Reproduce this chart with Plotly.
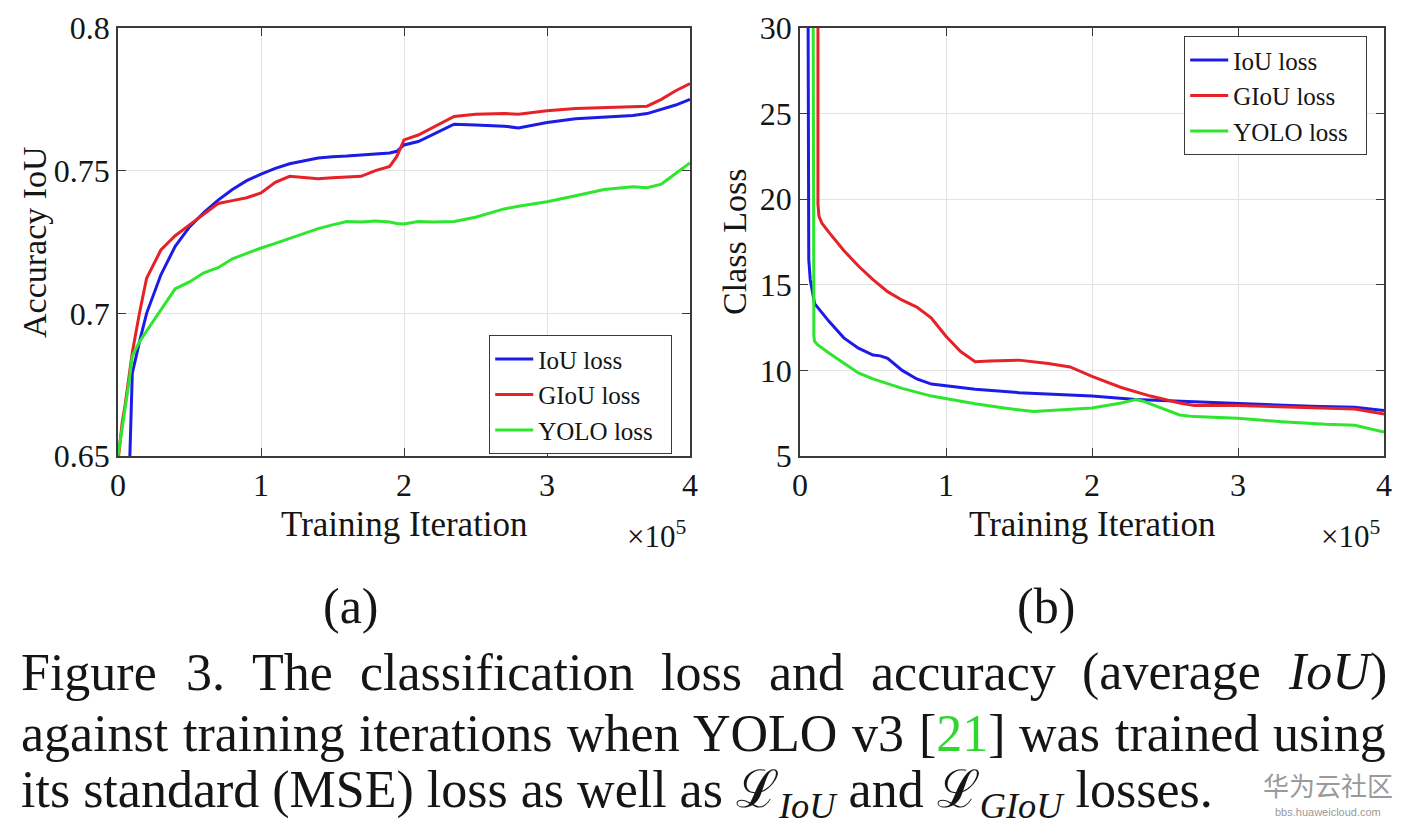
import re
import plotly.graph_objects as go

# ---- data (iterations in units of 1e5) ----
iter_a = [0.0, 0.03, 0.05, 0.08, 0.1, 0.15, 0.2, 0.3, 0.4, 0.5, 0.6, 0.7, 0.8, 0.9, 1.0, 1.1, 1.2, 1.4, 1.5, 1.6,
          1.7, 1.8, 1.9, 1.95, 2.0, 2.1, 2.2, 2.35, 2.5, 2.7, 2.8, 2.9, 3.0, 3.2, 3.4, 3.6, 3.7, 3.8, 3.9, 4.0]
acc_iou = [None, None, None, 0.645, 0.679, 0.690, 0.700, 0.7135, 0.7235, 0.7303, 0.7353, 0.7397, 0.7434, 0.7465,
           0.7488, 0.7508, 0.7524, 0.7544, 0.7549, 0.7551, 0.7555, 0.756, 0.7562, 0.7568, 0.759, 0.7602, 0.7627,
           0.7663, 0.766, 0.7656, 0.765, 0.7659, 0.7669, 0.7682, 0.7688, 0.7693, 0.770, 0.7715, 0.773, 0.775]
acc_giou = [0.648, 0.662, 0.668, 0.678, 0.6863, 0.700, 0.7123, 0.7222, 0.7272, 0.731, 0.7347, 0.7385, 0.7395, 0.7405,
            0.7422, 0.7459, 0.748, 0.7472, 0.7475, 0.7478, 0.748, 0.750, 0.7515, 0.755, 0.7608, 0.7625, 0.765,
            0.769, 0.7698, 0.770, 0.7698, 0.7705, 0.771, 0.7718, 0.7722, 0.7726, 0.7726, 0.775, 0.778, 0.7805]
acc_yolo = [0.65, 0.66, 0.667, 0.677, 0.6851, 0.690, 0.6938, 0.7012, 0.7086, 0.711, 0.7142, 0.716, 0.7191, 0.721,
            0.7229, 0.7245, 0.7262, 0.7297, 0.731, 0.7322, 0.732, 0.7324, 0.732, 0.7315, 0.7313, 0.7322, 0.732,
            0.7322, 0.7337, 0.7366, 0.7375, 0.7384, 0.7391, 0.7412, 0.7434, 0.7444, 0.744, 0.7453, 0.749, 0.7527]

iter_b_iou = [0.055, 0.055, 0.06, 0.07, 0.1, 0.2, 0.3, 0.4, 0.5, 0.55, 0.6, 0.7, 0.8, 0.9, 1.0, 1.2, 1.5, 1.8, 2.0,
              2.3, 2.6, 3.0, 3.5, 3.8, 4.0]
loss_iou = [32, 20, 16.5, 15.3, 13.9, 12.85, 11.9, 11.3, 10.9, 10.85, 10.7, 10.0, 9.5, 9.2, 9.1, 8.9, 8.7, 8.6, 8.5,
            8.3, 8.2, 8.05, 7.9, 7.85, 7.65]
iter_b_giou = [0.123, 0.123, 0.13, 0.15, 0.2, 0.3, 0.4, 0.5, 0.6, 0.7, 0.8, 0.9, 1.0, 1.1, 1.2, 1.3, 1.5, 1.7, 1.85,
               2.0, 2.2, 2.4, 2.6, 2.7, 3.0, 3.5, 3.8, 4.0]
loss_giou = [32, 19.7, 19.0, 18.6, 18.05, 17.0, 16.1, 15.3, 14.6, 14.1, 13.7, 13.05, 12.0, 11.1, 10.5, 10.55, 10.6,
             10.4, 10.2, 9.65, 9.0, 8.5, 8.1, 7.95, 7.95, 7.85, 7.75, 7.45]
iter_b_yolo = [0.09, 0.09, 0.095, 0.1, 0.12, 0.2, 0.3, 0.4, 0.5, 0.7, 0.9, 1.0, 1.2, 1.4, 1.6, 1.8, 2.0, 2.2,
               2.3, 2.35, 2.5, 2.6, 2.7, 3.0, 3.3, 3.6, 3.8, 4.0]
loss_yolo = [32, 14.8, 12.0, 11.7, 11.5, 11.0, 10.4, 9.85, 9.5, 8.95, 8.5, 8.35, 8.05, 7.8, 7.6, 7.7, 7.8, 8.1,
             8.3, 8.2, 7.7, 7.4, 7.3, 7.2, 7.0, 6.85, 6.8, 6.4]

names = ['IoU loss', 'GIoU loss', 'YOLO loss']
colours = ['#1c1ce6', '#e62228', '#2ee62e']

caption_1 = ['Figure', '3.', 'The', 'classification', 'loss', 'and', 'accuracy', '(average', '<i>IoU</i>)']
caption_2 = ['against', 'training', 'iterations', 'when', 'YOLO', 'v3', '[<span style="color:#2ed62e">21</span>]',
             'was', 'trained', 'using']
caption_3 = 'its standard (MSE) loss as well as \u2112<sub><i>IoU</i></sub> and \u2112<sub><i>GIoU</i></sub> losses.'

# the page body adds an 8px margin, so the figure is drawn 8px smaller and positions are shifted back
OFF = 8
W, H = 1410 - OFF, 833 - OFF
SERIF = 'Liberation Serif'
INK = '#151515'

# Times / Liberation Serif advance widths (1/1000 em), used to justify the caption lines
TIMES_W = {'a': 444, 'b': 500, 'c': 444, 'd': 500, 'e': 444, 'f': 333, 'g': 500, 'h': 500, 'i': 278, 'l': 278,
           'm': 778, 'n': 500, 'o': 500, 'r': 333, 's': 389, 't': 278, 'u': 500, 'v': 500, 'w': 722, 'y': 500,
           'F': 611, 'T': 611, 'I': 333, 'U': 722, 'Y': 722, 'O': 722, 'L': 611, '.': 250, '(': 333, ')': 333,
           '[': 333, ']': 333, '1': 500, '2': 500, '3': 500}

def px(x):
    return (x - OFF) / W

def py(y):
    return 1 - (y - OFF) / H

fig = go.Figure()
for n, ys in enumerate([acc_iou, acc_giou, acc_yolo]):
    fig.add_trace(go.Scatter(x=iter_a, y=ys, mode='lines', name=names[n] + '\u00a0\u00a0',
                             line=dict(color=colours[n], width=3), xaxis='x', yaxis='y', legend='legend'))
for n, (xs, ys) in enumerate([(iter_b_iou, loss_iou), (iter_b_giou, loss_giou), (iter_b_yolo, loss_yolo)]):
    fig.add_trace(go.Scatter(x=xs, y=ys, mode='lines', name=names[n] + '\u00a0\u00a0',
                             line=dict(color=colours[n], width=3), xaxis='x2', yaxis='y2', legend='legend2'))

axis_style = dict(showline=True, linecolor='#3a3a3a', linewidth=1.5, mirror='ticks', ticks='inside', ticklen=8,
                  tickcolor='#3a3a3a', showgrid=True, gridcolor='#e3e3e3', gridwidth=1, zeroline=False,
                  automargin=False, tickfont=dict(family=SERIF, size=32, color=INK))

legend_style = dict(bgcolor='white', bordercolor='#3a3a3a', borderwidth=1.2, xanchor='left', yanchor='top',
                    font=dict(family=SERIF, size=25, color=INK), itemwidth=38, tracegroupgap=0)

fig.update_layout(
    width=W, height=H, margin=dict(l=0, r=0, t=0, b=0, autoexpand=False),
    plot_bgcolor='white', paper_bgcolor='white', showlegend=True,
    xaxis=dict(domain=[px(118), px(690)], range=[0, 4], tickvals=[0, 1, 2, 3, 4], anchor='y', **axis_style),
    yaxis=dict(domain=[py(456), py(28)], range=[0.65, 0.8], tickvals=[0.65, 0.7, 0.75, 0.8],
               ticktext=['0.65', '0.7', '0.75', '0.8'], anchor='x', **axis_style),
    xaxis2=dict(domain=[px(800), px(1384)], range=[0, 4], tickvals=[0, 1, 2, 3, 4], anchor='y2', **axis_style),
    yaxis2=dict(domain=[py(456), py(28)], range=[5, 30], tickvals=[5, 10, 15, 20, 25, 30], anchor='x2',
                **axis_style),
    legend=dict(x=px(489), y=py(335), **legend_style),
    legend2=dict(x=px(1184), y=py(36), **legend_style),
)

def label(text, x, y, size, angle=0, color=INK, family=SERIF, xanchor='center'):
    fig.add_annotation(text=text, x=px(x), y=py(y), xref='paper', yref='paper', showarrow=False,
                       font=dict(family=family, size=size, color=color), textangle=angle,
                       xanchor=xanchor, yanchor='middle', borderpad=0)

def justify(words, y, size, x0=20, x1=1385):
    plain = [re.sub('<[^>]+>', '', w) for w in words]
    widths = [sum(TIMES_W.get(c, 500) for c in w) * size / 1000 for w in plain]
    gap = (x1 - x0 - sum(widths)) / (len(words) - 1)
    x = x0
    for w, wd in zip(words, widths):
        label(w, x, y, size, xanchor='left')
        x += wd + gap

# axis titles and multipliers
label('Accuracy IoU', 34, 242, 34, angle=-90)
label('Class Loss', 734, 242, 34, angle=-90)
label('Training Iteration', 404, 524, 35)
label('Training Iteration', 1092, 524, 35)
label('\u00d710<sup>5</sup>', 656, 534, 31)
label('\u00d710<sup>5</sup>', 1350, 534, 31)
label('(a)', 351, 606, 50)
label('(b)', 1046, 606, 50)

# caption
justify(caption_1, 672, 52)
justify(caption_2, 733, 52)
label(caption_3, 20, 793, 52, xanchor='left')

# watermark
label('华为云社区', 1328, 784, 26, color='#9a9a9a', family='Noto Sans CJK SC')
label('bbs.huaweicloud.com', 1328, 812, 11, color='#9a9a9a', family='Liberation Sans')

fig.write_html("out.html")
